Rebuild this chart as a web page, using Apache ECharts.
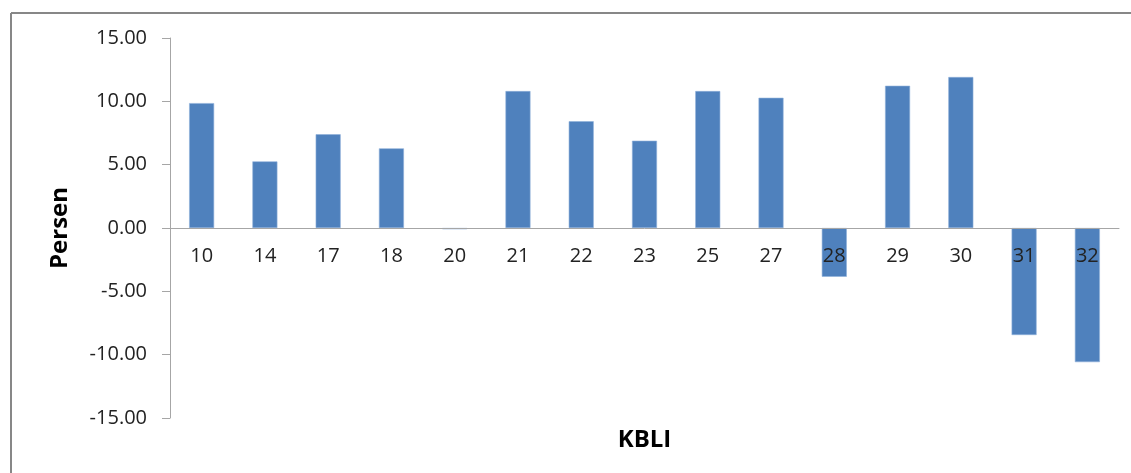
<!DOCTYPE html>
<html>
<head>
<meta charset="utf-8">
<script src="https://cdn.jsdelivr.net/npm/echarts@6/dist/echarts.min.js"></script>
<style>
  html, body { margin: 0; padding: 0; background: #fff; }
  #main { width: 1131px; height: 473px; }
</style>
</head>
<body>
<div id="main"></div>
<script>
// KBLI codes and growth (persen)
var kbli = ['10', '14', '17', '18', '20', '21', '22', '23', '25', '27', '28', '29', '30', '31', '32'];
var persen = [9.86, 5.26, 7.40, 6.29, -0.10, 10.81, 8.43, 6.89, 10.81, 10.28, -3.85, 11.23, 11.92, -8.45, -10.59];

var chart = echarts.init(document.getElementById('main'));
chart.setOption({
  animation: false,
  textStyle: { fontFamily: 'Open Sans' },
  graphic: [
    // frame (only top and left edges show)
    { type: 'line', shape: { x1: 11, y1: 13, x2: 1131, y2: 13 }, style: { stroke: '#878787', lineWidth: 2 } },
    { type: 'line', shape: { x1: 11, y1: 13, x2: 11, y2: 473 }, style: { stroke: '#878787', lineWidth: 2 } }
  ],
  grid: { left: 170, right: 12, top: 38, bottom: 55, outerBoundsMode: 'none' },
  xAxis: {
    type: 'category',
    data: kbli,
    name: 'KBLI',
    nameLocation: 'middle',
    nameGap: 200,
    nameTextStyle: { fontSize: 24, fontWeight: 'bold', color: '#000' },
    // sits on the zero line, labels drawn over the bars
    offset: -190,
    z: 5,
    axisLine: { onZero: false, lineStyle: { color: '#a6a6a6', width: 1 } },
    axisTick: { show: false },
    axisLabel: { margin: 18, fontSize: 20, color: '#222' }
  },
  yAxis: {
    type: 'value',
    min: -15,
    max: 15,
    interval: 5,
    name: 'Persen',
    nameLocation: 'middle',
    nameGap: 98,
    nameTextStyle: { fontSize: 24, fontWeight: 'bold', color: '#000' },
    axisLine: { show: true, lineStyle: { color: '#a6a6a6', width: 1 } },
    axisTick: { show: true, length: 8, inside: false, lineStyle: { color: '#a6a6a6' } },
    splitLine: { show: false },
    axisLabel: {
      margin: 23,
      fontSize: 20,
      color: '#222',
      formatter: function (v) { return v.toFixed(2); }
    }
  },
  series: [{
    type: 'bar',
    data: persen,
    barWidth: 25,
    itemStyle: { color: '#4f81bd', borderColor: '#8eb0da', borderWidth: 0.6 }
  }]
});
</script>
</body>
</html>
